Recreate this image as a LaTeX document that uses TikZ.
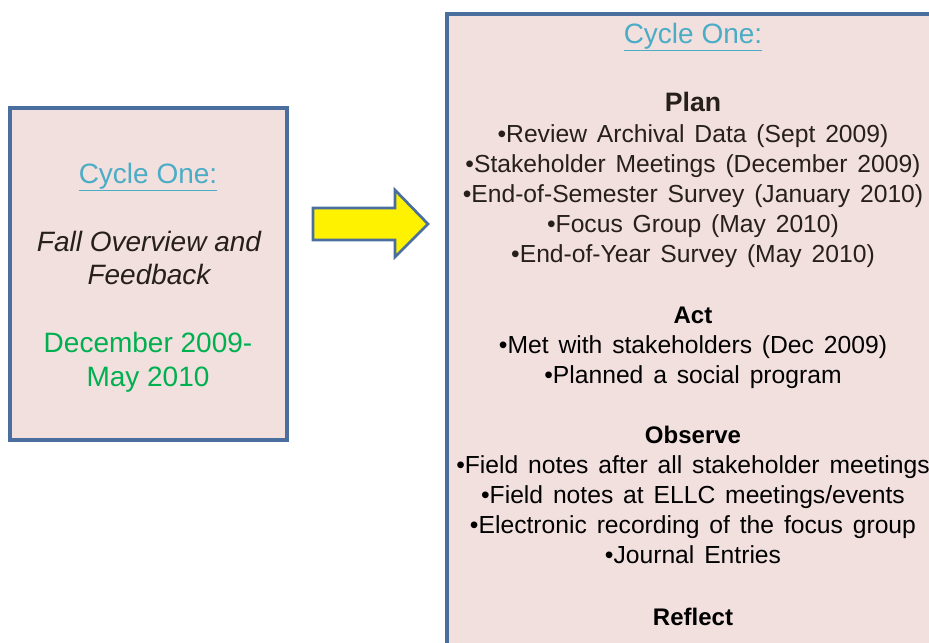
\documentclass[tikz,border=0pt]{standalone}
\usepackage{fontspec}
\setmainfont{Liberation Sans}
\definecolor{boxfill}{RGB}{242,224,222}
\definecolor{boxline}{RGB}{74,110,158}
\definecolor{titlecyan}{RGB}{75,172,198}
\definecolor{dategreen}{RGB}{0,176,80}
\definecolor{darktext}{RGB}{38,32,24}
\newcommand{\titlesize}{\fontsize{21}{25}\selectfont}
\newcommand{\headsize}{\fontsize{20}{24}\selectfont\bfseries}
\newcommand{\subsize}{\fontsize{18}{22}\selectfont\bfseries}
\newcommand{\itemsize}{\fontsize{18.5}{22}\selectfont\spaceskip=0.4em}

\begin{document}
\begin{tikzpicture}[
    x = 0.75pt,
    y = -0.75pt,
    every node/.style = {inner sep=0pt, anchor=base},
    box/.style = {draw=boxline, fill=boxfill, line width=2.6pt},
    ]
    \useasboundingbox (0,0) rectangle (929,643);
    \clip (0,0) rectangle (929,643);
    % left box
    \draw[box] (10,108) rectangle (287,440);
    \node[text=titlecyan, font=\titlesize] (lefttitle) at (148,183) {\underline{Cycle One:}};
    \node[text=darktext, font=\titlesize\itshape] (fall) at (149,251) {Fall Overview and};
    \node[text=darktext, font=\titlesize\itshape] (feedback) at (149,284) {Feedback};
    \node[text=dategreen, font=\titlesize] (datefrom) at (148,352) {December 2009-};
    \node[text=dategreen, font=\titlesize] (dateto) at (148,386) {May 2010};
    % block arrow
    \draw[draw=boxline, fill=yellow, line width=2pt, line join=miter]
    (313,208) -- (395,208) -- (395,190) -- (428,224) -- (395,257)
    -- (395,240) -- (313,240) -- cycle;
    % right box
    \draw[box] (447,14) rectangle (960,700);
    \node[text=titlecyan, font=\titlesize] (righttitle) at (693,43) {\underline{Cycle One:}};
    % plan
    \node[text=darktext, font=\headsize] (plan) at (693,111) {Plan};
    \foreach \y/\txt in {142/{•Review Archival Data (Sept 2009)},
      172/{•Stakeholder Meetings (December 2009)},
      202/{•End-of-Semester Survey (January 2010)},
      232/{•Focus Group (May 2010)},
      262/{•End-of-Year Survey (May 2010)}}
    \node[text=darktext, font=\itemsize] (plan\y) at (693,\y) {\txt};
    % act
    \node[font=\subsize] (act) at (693,323) {Act};
    \foreach \y/\txt in {353/{•Met with stakeholders (Dec 2009)},
      383/{•Planned a social program}}
    \node[font=\itemsize] (act\y) at (693,\y) {\txt};
    % observe
    \node[font=\subsize] (observe) at (693,443) {Observe};
    \foreach \y/\txt in {473/{•Field notes after all stakeholder meetings},
      503/{•Field notes at ELLC meetings/events},
      533/{•Electronic recording of the focus group},
      563/{•Journal Entries}}
    \node[font=\itemsize] (observe\y) at (693,\y) {\txt};
    % reflect
    \node[font=\subsize] (reflect) at (693,625) {Reflect};
  \end{tikzpicture}
\end{document}
